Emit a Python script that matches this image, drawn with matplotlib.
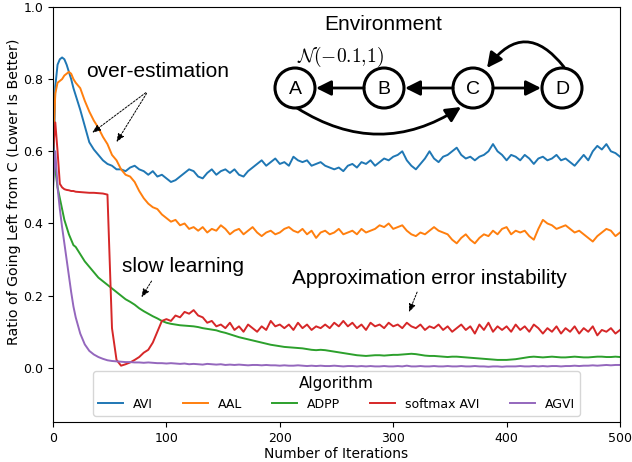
import numpy as np
import matplotlib
matplotlib.use("Agg")
import matplotlib.pyplot as plt
from matplotlib.patches import Circle, FancyArrowPatch

iterations = np.concatenate([np.arange(0, 20, 2), np.arange(20, 501, 4)])

avi = [0.50, 0.78, 0.84, 0.855, 0.86, 0.855, 0.84, 0.82, 0.80, 0.775,
       0.755, 0.715, 0.67, 0.625, 0.605, 0.59, 0.575, 0.565, 0.56, 0.55,
       0.55, 0.545, 0.555, 0.56, 0.55, 0.545, 0.535, 0.545, 0.53, 0.535, 0.525,
       0.515, 0.52, 0.53, 0.54, 0.55, 0.545, 0.53, 0.525, 0.54, 0.55,
       0.535, 0.545, 0.55, 0.54, 0.55, 0.535, 0.53, 0.545, 0.555, 0.565,
       0.575, 0.56, 0.57, 0.58, 0.565,
       0.57, 0.56, 0.585, 0.575, 0.57, 0.575, 0.56, 0.565, 0.57, 0.56,
       0.555, 0.55, 0.555, 0.545, 0.56, 0.565, 0.555, 0.57, 0.565, 0.575,
       0.56, 0.57, 0.58, 0.575, 0.585,
       0.59, 0.60, 0.575, 0.56, 0.55, 0.565, 0.58, 0.60, 0.58, 0.57,
       0.585, 0.59, 0.60, 0.61, 0.59, 0.58, 0.585, 0.575, 0.585, 0.59,
       0.60, 0.62, 0.60, 0.59, 0.575,
       0.59, 0.585, 0.575, 0.59, 0.58, 0.565, 0.58, 0.585, 0.575, 0.58,
       0.59, 0.575, 0.58, 0.57, 0.56, 0.575, 0.59, 0.575, 0.60, 0.615,
       0.605, 0.62, 0.60, 0.595, 0.585]

aal = [0.60, 0.76, 0.79, 0.795, 0.80, 0.81, 0.815, 0.82, 0.815, 0.80,
       0.79, 0.775, 0.74, 0.71, 0.685, 0.665, 0.64, 0.62, 0.59, 0.575,
       0.55, 0.535, 0.53, 0.515, 0.49, 0.47, 0.455, 0.445, 0.44, 0.425, 0.415,
       0.405, 0.41, 0.395, 0.40, 0.385, 0.39, 0.38, 0.39, 0.375, 0.385,
       0.38, 0.395, 0.385, 0.37, 0.38, 0.385, 0.37, 0.38, 0.39, 0.375,
       0.365, 0.375, 0.38, 0.37, 0.375,
       0.385, 0.39, 0.38, 0.375, 0.385, 0.37, 0.38, 0.36, 0.375, 0.38,
       0.37, 0.375, 0.385, 0.37, 0.375, 0.38, 0.37, 0.385, 0.375, 0.38,
       0.385, 0.395, 0.39, 0.40, 0.385,
       0.39, 0.395, 0.38, 0.37, 0.365, 0.375, 0.37, 0.38, 0.39, 0.38,
       0.375, 0.37, 0.355, 0.345, 0.36, 0.37, 0.355, 0.345, 0.36, 0.37,
       0.365, 0.38, 0.37, 0.385, 0.39,
       0.37, 0.38, 0.375, 0.38, 0.365, 0.355, 0.385, 0.41, 0.40, 0.395,
       0.385, 0.39, 0.395, 0.385, 0.375, 0.38, 0.37, 0.36, 0.35, 0.365,
       0.375, 0.385, 0.38, 0.365, 0.375]

adpp = [0.60, 0.55, 0.50, 0.47, 0.44, 0.41, 0.39, 0.37, 0.355, 0.34,
        0.335, 0.315, 0.295, 0.28, 0.265, 0.25, 0.24, 0.23, 0.22, 0.21,
        0.20, 0.19, 0.183, 0.175, 0.165, 0.157, 0.15, 0.143, 0.137, 0.13, 0.125,
        0.122, 0.12, 0.118, 0.117, 0.116, 0.115, 0.113, 0.11, 0.108, 0.106,
        0.104, 0.10, 0.097, 0.093, 0.089, 0.085, 0.082, 0.079, 0.076, 0.073,
        0.07, 0.067, 0.064, 0.062, 0.06,
        0.058, 0.057, 0.056, 0.055, 0.054, 0.052, 0.05, 0.049, 0.05, 0.049,
        0.047, 0.045, 0.043, 0.041, 0.039, 0.037, 0.035, 0.034, 0.033, 0.034,
        0.035, 0.035, 0.034, 0.035, 0.036,
        0.036, 0.037, 0.038, 0.039, 0.038, 0.036, 0.034, 0.033, 0.033, 0.032,
        0.031, 0.03, 0.031, 0.031, 0.03, 0.029, 0.028, 0.027, 0.026, 0.025,
        0.024, 0.023, 0.022, 0.022, 0.022,
        0.023, 0.024, 0.026, 0.028, 0.03, 0.031, 0.03, 0.029, 0.03, 0.031,
        0.03, 0.029, 0.029, 0.03, 0.031, 0.03, 0.029, 0.029, 0.03, 0.031,
        0.031, 0.03, 0.03, 0.031, 0.03]

softmax_avi = [0.60, 0.68, 0.60, 0.51, 0.50, 0.495, 0.493, 0.492, 0.49, 0.49,
               0.488, 0.487, 0.486, 0.485, 0.485, 0.484, 0.483, 0.48, 0.11, 0.022,
               0.006, 0.01, 0.015, 0.022, 0.03, 0.042, 0.05, 0.07, 0.10, 0.13, 0.135,
               0.13, 0.145, 0.14, 0.155, 0.15, 0.16, 0.145, 0.14, 0.125, 0.13,
               0.115, 0.12, 0.11, 0.125, 0.105, 0.115, 0.10, 0.12, 0.11, 0.10,
               0.115, 0.105, 0.13, 0.115, 0.12,
               0.11, 0.12, 0.105, 0.125, 0.11, 0.12, 0.105, 0.115, 0.11, 0.12,
               0.11, 0.125, 0.115, 0.13, 0.115, 0.125, 0.11, 0.12, 0.105, 0.125,
               0.115, 0.12, 0.11, 0.125, 0.115,
               0.12, 0.11, 0.125, 0.115, 0.11, 0.12, 0.105, 0.115, 0.11, 0.12,
               0.105, 0.115, 0.10, 0.11, 0.12, 0.105, 0.115, 0.095, 0.12, 0.105,
               0.125, 0.10, 0.115, 0.105, 0.115,
               0.10, 0.12, 0.105, 0.115, 0.10, 0.12, 0.11, 0.095, 0.11, 0.10,
               0.115, 0.095, 0.11, 0.10, 0.115, 0.095, 0.11, 0.10, 0.115, 0.09,
               0.105, 0.10, 0.11, 0.095, 0.105]

agvi = [0.50, 0.60, 0.50, 0.44, 0.39, 0.345, 0.30, 0.255, 0.21, 0.17,
        0.14, 0.095, 0.065, 0.047, 0.037, 0.03, 0.025, 0.021, 0.019, 0.018,
        0.017, 0.016, 0.016, 0.015, 0.015, 0.014, 0.015, 0.014, 0.013, 0.013, 0.012,
        0.013, 0.012, 0.011, 0.012, 0.01, 0.011, 0.01, 0.009, 0.011, 0.01,
        0.009, 0.01, 0.008, 0.009, 0.008, 0.009, 0.008, 0.007, 0.008, 0.008,
        0.007, 0.008, 0.007, 0.007, 0.006,
        0.007, 0.006, 0.006, 0.007, 0.006, 0.005, 0.006, 0.005, 0.006, 0.005,
        0.005, 0.006, 0.005, 0.004, 0.005, 0.005, 0.004, 0.005, 0.004, 0.005,
        0.004, 0.004, 0.005, 0.004, 0.004,
        0.005, 0.004, 0.006, 0.004, 0.004, 0.005, 0.004, 0.004, 0.005, 0.004,
        0.004, 0.005, 0.004, 0.004, 0.005, 0.004, 0.004, 0.005, 0.004, 0.004,
        0.003, 0.004, 0.004, 0.003, 0.004,
        0.004, 0.004, 0.005, 0.004, 0.004, 0.005, 0.004, 0.005, 0.004, 0.005,
        0.005, 0.004, 0.005, 0.005, 0.006, 0.005, 0.006, 0.006, 0.007, 0.006,
        0.007, 0.008, 0.007, 0.008, 0.008]

algorithms = ["AVI", "AAL", "ADPP", "softmax AVI", "AGVI"]
series = [avi, aal, adpp, softmax_avi, agvi]

ann_font = "Liberation Sans"

fig = plt.figure(figsize=(6.32, 4.62), dpi=100)
ax = fig.add_axes([0.0839, 0.0866, 0.8971, 0.8984])

for name, vals in zip(algorithms, series):
    ax.plot(iterations, vals, lw=1.4, label=name)

ax.set_xlim(0, 500)
ax.set_ylim(-0.15, 1.0)
ax.set_xticks([0, 100, 200, 300, 400, 500])
ax.set_yticks([0.0, 0.2, 0.4, 0.6, 0.8, 1.0])
ax.tick_params(labelsize=9)
ax.set_xlabel("Number of Iterations", fontsize=10, labelpad=2)
ax.set_ylabel("Ratio of Going Left from C (Lower Is Better)", fontsize=10.2)
ax.yaxis.set_label_coords(-0.056, 0.555)

leg = ax.legend(title="Algorithm", ncol=5, loc="lower center", fontsize=9,
                title_fontsize=11, bbox_to_anchor=(0.5, 0.0), borderaxespad=0.5,
                handlelength=2.0, columnspacing=2.4)

# annotations
arrow_kw = dict(arrowstyle="-|>,head_length=0.5,head_width=0.2", lw=0.7,
                ls=(0, (2, 1.5)), color="black", mutation_scale=10)
ax.text(92.6, 0.822, "over-estimation", fontsize=15, family=ann_font,
        ha="center", va="center")
ax.annotate("", xy=(32.6, 0.647), xytext=(83.8, 0.767), arrowprops=arrow_kw)
ax.annotate("", xy=(54.7, 0.619), xytext=(83.8, 0.767), arrowprops=arrow_kw)
ax.text(114.6, 0.28, "slow learning", fontsize=15, family=ann_font,
        ha="center", va="center")
ax.annotate("", xy=(76.7, 0.189), xytext=(88.2, 0.247), arrowprops=arrow_kw)
ax.text(331.6, 0.247, "Approximation error instability", fontsize=15,
        family=ann_font, ha="center", va="center")
ax.annotate("", xy=(313, 0.147), xytext=(322, 0.217), arrowprops=arrow_kw)

# environment diagram, drawn in pixel space of the figure
dg = fig.add_axes([0, 0, 1, 1], zorder=5)
dg.set_xlim(0, 632)
dg.set_ylim(462, 0)
dg.axis("off")
dg.patch.set_alpha(0)

nodes = {"A": (295, 88), "B": (384, 88), "C": (473, 88), "D": (562, 88)}
r = 20
for label, (cx, cy) in nodes.items():
    dg.add_patch(Circle((cx, cy), r, facecolor="white", edgecolor="black", lw=2.2))
    dg.text(cx, cy + 1, label, fontsize=14, family=ann_font, ha="center", va="center")

head = "-|>,head_length=0.6,head_width=0.3"


def arrow(p, q, rad=0.0):
    dg.add_patch(FancyArrowPatch(p, q, arrowstyle=head, mutation_scale=15,
                                 connectionstyle="arc3,rad=%s" % rad,
                                 lw=2.0, color="black", shrinkA=0, shrinkB=0))


arrow((364, 88), (316, 88))
arrow((453, 88), (405, 88))
arrow((493, 88), (541, 88))
arrow((297, 108), (461, 107), rad=0.32)
arrow((564, 67), (487, 68), rad=0.65)

dg.text(383, 25, "Environment", fontsize=15, family=ann_font, ha="center", va="center")
dg.text(340, 57, r"$\mathcal{N}(-0.1{,}1)$", fontsize=14, ha="center", va="center",
        math_fontfamily="cm")

fig.savefig("out.png", dpi=100)
